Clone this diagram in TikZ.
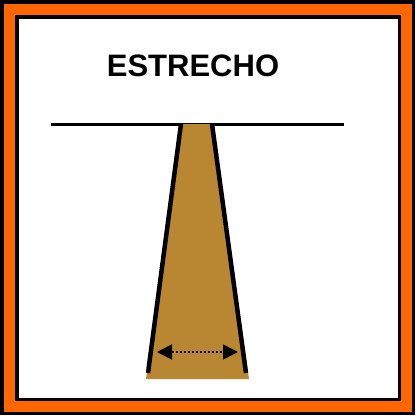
\documentclass[tikz,border=0pt]{standalone}
\usepackage{fontspec}
\setmainfont{Liberation Sans}
\usetikzlibrary{arrows.meta}
\definecolor{bandorange}{RGB}{255,102,0}
\definecolor{woodbrown}{RGB}{185,135,50}
\begin{document}
\begin{tikzpicture}[
        x=1pt, y=-1pt,
        frame/.style={draw=black, line width=3.2pt},
        title/.style={font=\fontsize{31}{31}\selectfont\bfseries, text=black, inner sep=0pt},
        edge/.style={line width=4.5pt},
        measure/.style={line width=1.6pt, dash pattern=on 2pt off 2pt, {Triangle[length=15pt, width=15pt]}-{Triangle[length=15pt, width=15pt]}}
    ]
        \useasboundingbox (0,0) rectangle (417,417);
        \filldraw[frame, fill=bandorange] (2,2) rectangle (413.5,413.5);
        \filldraw[frame, fill=white] (17,17) rectangle (399.5,399.5);

        \node (label) [title] at (193,66) {ESTRECHO};

        \coordinate (groundl) at (51,124);
        \coordinate (groundr) at (344,124);
        \draw[line width=3pt] (groundl) -- (groundr);

        \coordinate (topl) at (181,124);
        \coordinate (topr) at (212,124);
        \coordinate (botl) at (148,373);
        \coordinate (botr) at (246,373);
        \fill[woodbrown] (topl) -- (topr) -- (249,379) -- (146,379) -- cycle;
        \draw[edge] (topl) -- (botl);
        \draw[edge] (topr) -- (botr);

        \coordinate (widthl) at (157,352);
        \coordinate (widthr) at (238,352);
        \draw[measure] (widthl) -- (widthr);
\end{tikzpicture}
\end{document}
